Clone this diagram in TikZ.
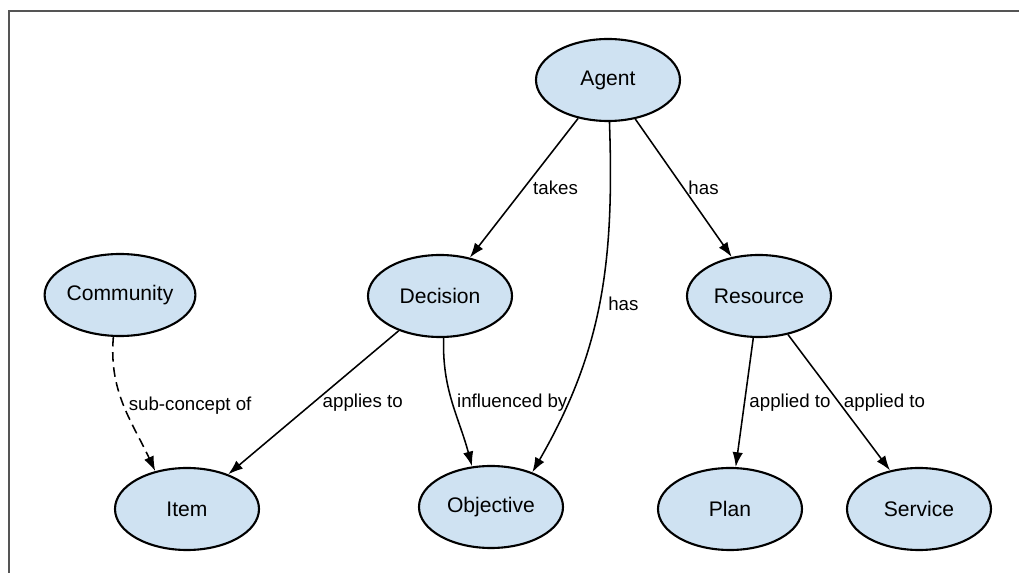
\documentclass[tikz,border=0pt]{standalone}
\usepackage{fontspec}
\setmainfont{Liberation Sans}
\usetikzlibrary{shapes.geometric,arrows.meta}
\definecolor{conceptblue}{RGB}{207,226,242}
\definecolor{framegray}{RGB}{85,85,85}
\begin{document}
\begin{tikzpicture}[-{Latex[length=3.7mm,width=2.6mm]}, line width=1.1pt]
		\tikzstyle{concept} = [ellipse, draw, line width=1.5pt, fill=conceptblue, minimum width=3.6cm, minimum height=2.05cm, inner sep=0pt, font=\fontsize{15}{17}\selectfont]
		\tikzstyle{rel} = [font=\fontsize{13.3}{15}\selectfont, anchor=west, inner sep=3pt]
		\useasboundingbox (0,0) rectangle (25.475,-14.325);
		\draw[-, framegray, line width=1.4pt] (0.225,-14.325) -- (0.225,-0.275) -- (25.475,-0.275);
		\node[concept](Agent) at (15.2,-2.0) {Agent};
		\node[concept](Decision) at (11.0,-7.4) {Decision};
		\node[concept](Resource) at (18.975,-7.4) {Resource};
		\node[concept](Community) at (3.0,-7.375) {Community};
		\node[concept](Item) at (4.675,-12.725) {Item};
		\node[concept](Objective) at (12.275,-12.675) {Objective};
		\node[concept](Plan) at (18.25,-12.725) {Plan};
		\node[concept](Service) at (22.975,-12.725) {Service};
		\path  (Agent) edge node[rel, xshift=3pt] {takes} (Decision);
		\path  (Agent.-88) edge[out=-88, in=60] node[rel, xshift=3pt] {has} (Objective.40);
		\path  (Agent) edge node[rel] {has} (Resource);
		\path  (Decision) edge node[rel, xshift=3pt] {applies to} (Item);
		\path  (Decision.-85) edge[out=-92, in=105] node[rel] {influenced by} (Objective.115);
		\path  (Community.-99) edge[out=-95, in=115, dash pattern=on 2.4mm off 1.4mm] node[rel] {sub-concept of} (Item.130);
		\path  (Resource) edge node[rel] {applied to} (Plan);
		\path  (Resource) edge node[rel] {applied to} (Service);
	\end{tikzpicture}
\end{document}
